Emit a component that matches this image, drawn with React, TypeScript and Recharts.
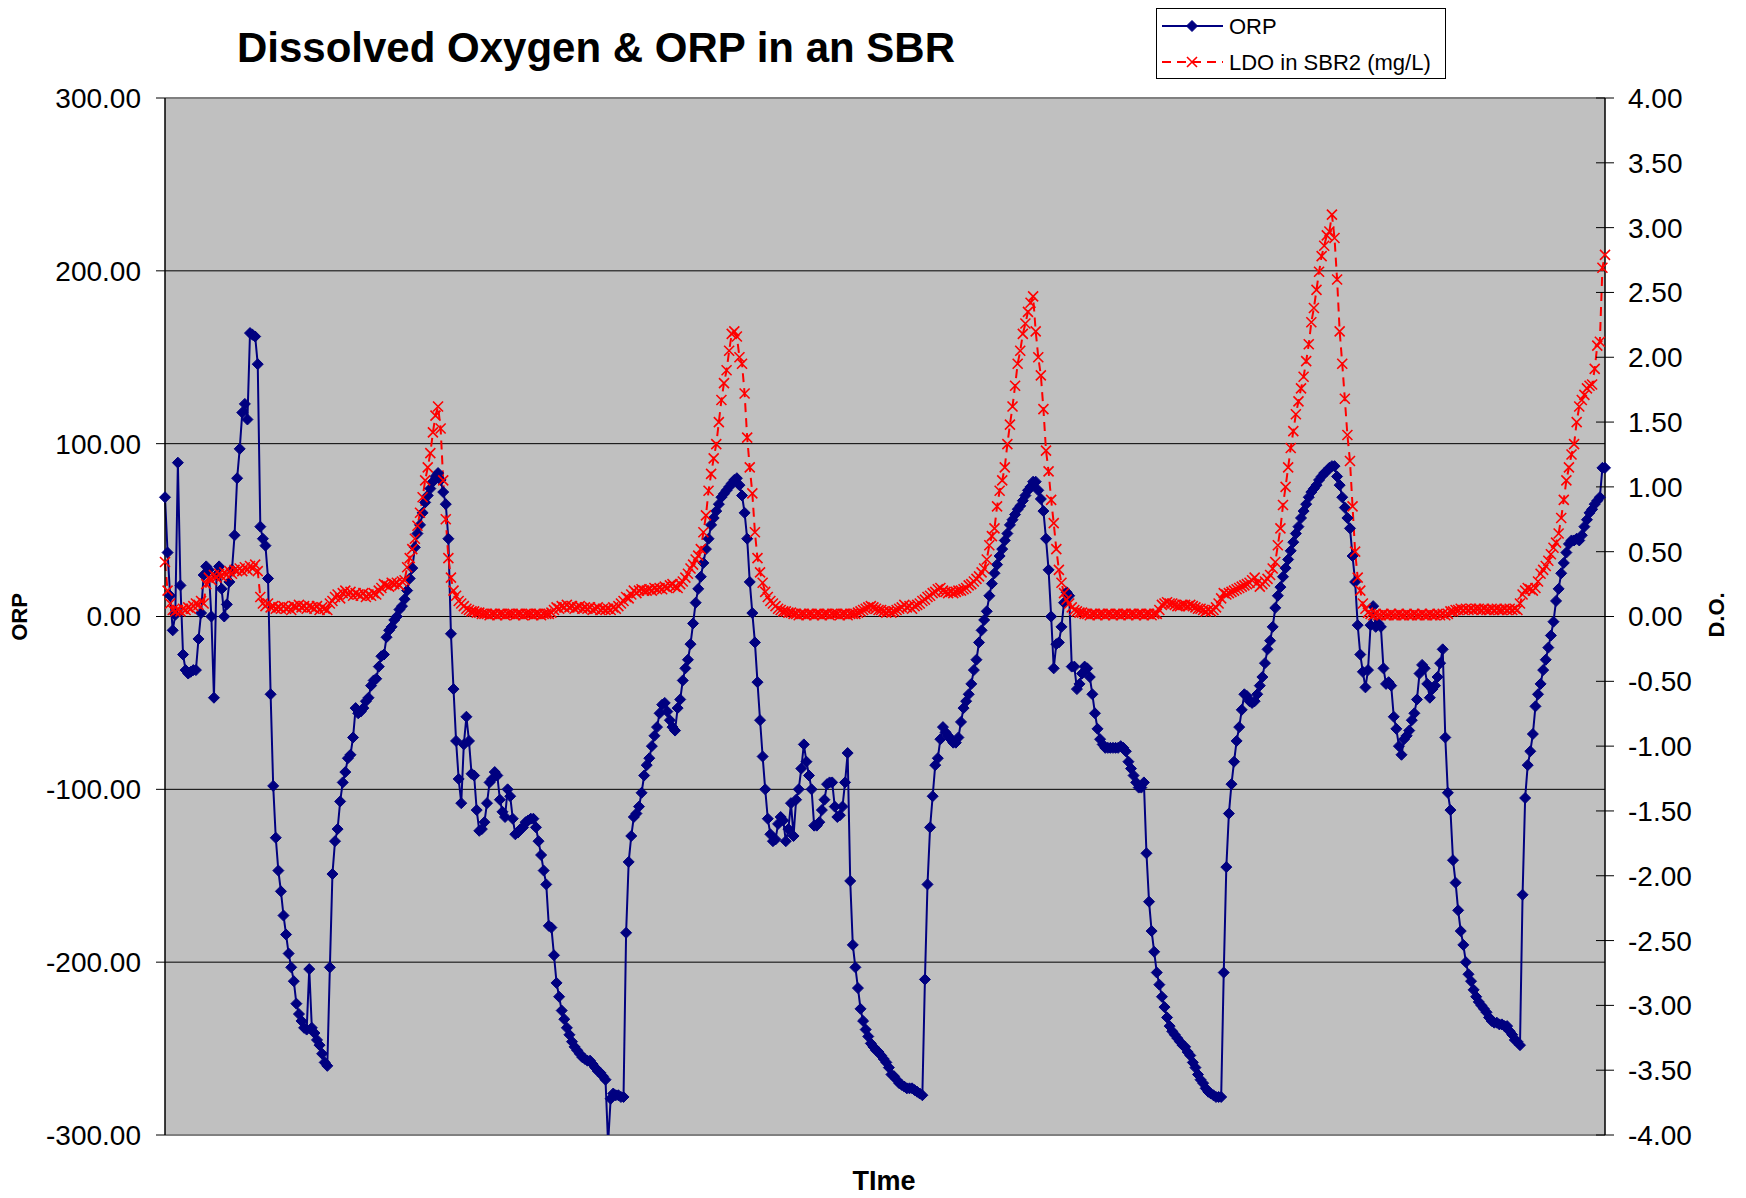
import { CartesianGrid, Line, LineChart, ReferenceLine, XAxis, YAxis } from "recharts";

// ORP (mV), one reading per logging interval
const orp = [
  69, 37, 12, -8, 1, 89, 18, -22, -31, -33,
  -32, -31, -31, -13, 2, 24, 29, 27, 0, -47,
  24, 29, 16, 0, 7, 20, 27, 47, 80, 97,
  118, 123, 114, 164, 163, 162, 146, 52, 45, 41,
  22, -45, -98, -128, -147, -159, -173, -184, -195, -203,
  -211, -224, -230, -234, -238, -239, -204, -238, -241, -245,
  -248, -253, -258, -260, -203, -149, -130, -123, -107, -96,
  -90, -82, -80, -70, -53, -56, -55, -53, -49, -47,
  -40, -37, -36, -29, -23, -22, -12, -8, -6, -2,
  0, 4, 6, 10, 15, 22, 28, 40, 48, 53,
  60, 66, 70, 74, 78, 81, 83, 79, 72, 65,
  45, -10, -42, -72, -94, -108, -74, -58, -72, -91,
  -92, -112, -124, -123, -119, -108, -96, -94, -90, -92,
  -106, -113, -116, -100, -104, -117, -126, -125, -123, -122,
  -119, -118, -117, -117, -122, -130, -138, -147, -155, -179,
  -180, -196, -212, -220, -228, -233, -238, -242, -246, -249,
  -251, -253, -255, -256, -257, -257, -259, -261, -263, -264,
  -266, -268, -305, -279, -276, -277, -277, -278, -278, -183,
  -142, -127, -116, -114, -110, -102, -92, -86, -82, -75,
  -69, -64, -56, -51, -50, -55, -60, -64, -66, -53,
  -48, -37, -30, -25, -16, -4, 8, 16, 23, 31,
  39, 45, 53, 57, 61, 65, 69, 71, 73, 75,
  77, 79, 80, 76, 70, 60, 45, 20, 2, -15,
  -38, -60, -81, -100, -117, -126, -130, -129, -120, -116,
  -118, -130, -123, -108, -127, -106, -100, -88, -74, -84,
  -92, -100, -121, -121, -119, -112, -106, -97, -96, -96,
  -110, -116, -115, -110, -96, -79, -153, -190, -203, -215,
  -227, -234, -239, -243, -247, -249, -251, -252, -254, -256,
  -258, -261, -265, -266, -268, -270, -271, -272, -273, -273,
  -273, -274, -275, -276, -277, -210, -155, -122, -104, -86,
  -82, -71, -64, -67, -69, -71, -73, -73, -70, -61,
  -53, -49, -45, -39, -31, -25, -15, -8, -2, 3,
  12, 19, 25, 30, 35, 39, 44, 48, 53, 56,
  59, 62, 64, 67, 70, 73, 75, 78, 78, 73,
  68, 61, 45, 27, 0, -30, -16, -15, -6, 8,
  14, 12, -29, -29, -42, -39, -33, -29, -30, -35,
  -45, -56, -65, -71, -74, -76, -76, -76, -76, -76,
  -76, -75, -76, -78, -84, -88, -92, -96, -99, -99,
  -96, -137, -165, -182, -194, -206, -213, -220, -226, -232,
  -237, -240, -242, -244, -246, -248, -249, -252, -254, -258,
  -261, -265, -268, -270, -273, -275, -276, -277, -278, -278,
  -278, -206, -145, -114, -97, -84, -72, -64, -54, -45,
  -46, -49, -50, -49, -45, -40, -35, -27, -19, -14,
  -6, 5, 12, 17, 23, 28, 33, 38, 43, 48,
  52, 57, 61, 65, 69, 72, 74, 76, 79, 81,
  83, 84, 86, 87, 87, 81, 76, 69, 63, 57,
  51, 35, 20, -5, -22, -32, -41, -31, -5, 6,
  -6, -4, -6, -30, -39, -38, -40, -58, -65, -75,
  -80, -71, -69, -66, -60, -56, -48, -33, -28, -30,
  -39, -47, -42, -40, -35, -27, -19, -70, -102, -112,
  -141, -154, -170, -182, -190, -200, -207, -211, -216, -220,
  -223, -225, -227, -229, -232, -234, -235, -235, -236, -236,
  -237, -237, -240, -242, -245, -246, -248, -161, -105, -86,
  -78, -68, -52, -45, -39, -31, -25, -18, -11, -3,
  9, 16, 25, 31, 37, 42, 44, 44, 45, 44,
  47, 52, 56, 60, 62, 65, 67, 69, 86, 86,
];

// LDO in SBR2 (mg/L)
const ldo = [
  0.42, 0.2, 0.1, 0.05, 0.04, 0.05, 0.04, 0.06, 0.05, 0.07,
  0.06, 0.08, 0.1, 0.09, 0.12, 0.1, 0.25, 0.3, 0.28, 0.32,
  0.3, 0.33, 0.31, 0.34, 0.32, 0.35, 0.33, 0.36, 0.35, 0.37,
  0.35, 0.38, 0.36, 0.39, 0.37, 0.4, 0.35, 0.15, 0.1, 0.08,
  0.1, 0.07, 0.08, 0.06, 0.07, 0.06, 0.08, 0.06, 0.07, 0.05,
  0.08, 0.07, 0.09, 0.07, 0.08, 0.06, 0.08, 0.07, 0.06, 0.08,
  0.05, 0.07, 0.06, 0.05, 0.1, 0.12, 0.15, 0.17, 0.14, 0.18,
  0.2, 0.17, 0.19, 0.16, 0.18, 0.17, 0.16, 0.18, 0.15, 0.17,
  0.16, 0.18, 0.17, 0.2, 0.22, 0.25, 0.24, 0.23, 0.26, 0.25,
  0.26, 0.24, 0.27, 0.28, 0.38, 0.45, 0.52, 0.6, 0.7, 0.8,
  0.92, 1.05, 1.15, 1.26, 1.42, 1.55, 1.62, 1.45, 1.05, 0.75,
  0.45, 0.3, 0.2, 0.16, 0.12, 0.1, 0.08, 0.06, 0.05, 0.04,
  0.04, 0.03, 0.03, 0.02, 0.02, 0.02, 0.01, 0.02, 0.02, 0.01,
  0.02, 0.02, 0.01, 0.02, 0.02, 0.02, 0.01, 0.02, 0.02, 0.01,
  0.02, 0.02, 0.02, 0.01, 0.02, 0.02, 0.01, 0.02, 0.02, 0.02,
  0.03, 0.05, 0.07, 0.06, 0.08, 0.07, 0.09, 0.07, 0.08, 0.06,
  0.07, 0.08, 0.06, 0.07, 0.06, 0.07, 0.05, 0.06, 0.07, 0.05,
  0.06, 0.05, 0.06, 0.05, 0.07, 0.06, 0.08, 0.1, 0.12, 0.15,
  0.14, 0.17, 0.2, 0.18, 0.2, 0.21, 0.2, 0.2, 0.21, 0.2,
  0.22, 0.21, 0.22, 0.21, 0.23, 0.22, 0.24, 0.25, 0.23, 0.22,
  0.25, 0.27, 0.3, 0.33, 0.37, 0.4, 0.44, 0.47, 0.52, 0.65,
  0.78, 0.97, 1.1, 1.22, 1.33, 1.5, 1.67, 1.8, 1.9, 2.05,
  2.18, 2.2, 2.16, 2.0, 1.95, 1.72, 1.38, 1.15, 0.95, 0.65,
  0.45, 0.34, 0.26, 0.19, 0.15, 0.12, 0.1, 0.08, 0.06, 0.05,
  0.04, 0.04, 0.03, 0.03, 0.02, 0.02, 0.01, 0.02, 0.02, 0.01,
  0.02, 0.02, 0.01, 0.02, 0.02, 0.01, 0.02, 0.02, 0.01, 0.02,
  0.02, 0.02, 0.01, 0.02, 0.02, 0.01, 0.02, 0.02, 0.02, 0.03,
  0.04, 0.05, 0.06, 0.07, 0.08, 0.07, 0.06, 0.05, 0.05, 0.04,
  0.03, 0.04, 0.03, 0.04, 0.05, 0.06, 0.07, 0.09, 0.07, 0.08,
  0.06, 0.08, 0.09, 0.1, 0.12, 0.13, 0.15, 0.16, 0.18, 0.19,
  0.21, 0.22, 0.2, 0.19, 0.18, 0.19, 0.18, 0.19, 0.2, 0.2,
  0.21, 0.22, 0.24, 0.25, 0.27, 0.29, 0.31, 0.34, 0.37, 0.44,
  0.55, 0.62, 0.68, 0.85, 0.97, 1.05, 1.15, 1.33, 1.48, 1.62,
  1.78, 1.95, 2.05, 2.18, 2.26, 2.35, 2.42, 2.47, 2.2, 2.0,
  1.86, 1.6, 1.28, 1.12, 0.9, 0.72, 0.52, 0.36, 0.26, 0.18,
  0.13, 0.1, 0.07, 0.05, 0.04, 0.03, 0.03, 0.02, 0.02, 0.01,
  0.02, 0.02, 0.01, 0.02, 0.02, 0.01, 0.02, 0.02, 0.01, 0.02,
  0.02, 0.01, 0.02, 0.02, 0.01, 0.02, 0.02, 0.01, 0.02, 0.02,
  0.01, 0.02, 0.02, 0.01, 0.02, 0.02, 0.05, 0.09, 0.1, 0.11,
  0.1, 0.1, 0.09, 0.08, 0.08, 0.09, 0.09, 0.08, 0.09, 0.08,
  0.07, 0.06, 0.06, 0.05, 0.04, 0.05, 0.04, 0.05, 0.07, 0.1,
  0.14, 0.18, 0.17, 0.18, 0.19, 0.2, 0.21, 0.22, 0.23, 0.24,
  0.25, 0.26, 0.28, 0.3, 0.26, 0.23, 0.25, 0.27, 0.29, 0.32,
  0.37, 0.42, 0.55, 0.68, 0.86, 1.0, 1.15, 1.3, 1.43, 1.56,
  1.66, 1.76, 1.85, 1.97, 2.1, 2.27, 2.38, 2.52, 2.66, 2.78,
  2.86, 2.94, 2.97, 3.1, 2.92, 2.6, 2.2, 1.95, 1.68, 1.4,
  1.2, 0.85, 0.5, 0.3, 0.2, 0.1, 0.06, 0.03, 0.02, 0.01,
  0.02, 0.01, 0.01, 0.02, 0.01, 0.01, 0.02, 0.01, 0.01, 0.02,
  0.01, 0.01, 0.02, 0.01, 0.01, 0.02, 0.01, 0.01, 0.02, 0.01,
  0.01, 0.02, 0.01, 0.01, 0.02, 0.01, 0.02, 0.01, 0.02, 0.04,
  0.04, 0.05, 0.05, 0.06, 0.05, 0.06, 0.05, 0.06, 0.05, 0.06,
  0.06, 0.05, 0.06, 0.05, 0.05, 0.06, 0.05, 0.06, 0.05, 0.05,
  0.06, 0.05, 0.06, 0.05, 0.06, 0.05, 0.1, 0.17, 0.2, 0.22,
  0.21, 0.2, 0.22, 0.27, 0.33, 0.36, 0.39, 0.43, 0.48, 0.53,
  0.57, 0.64, 0.76, 0.9, 1.05, 1.15, 1.25, 1.33, 1.5, 1.62,
  1.67, 1.71, 1.76, 1.78, 1.79, 1.91, 2.09, 2.12, 2.69, 2.79,
];

const orpTicks = [-300, -200, -100, 0, 100, 200, 300];
const doTicks = [-4, -3.5, -3, -2.5, -2, -1.5, -1, -0.5, 0, 0.5, 1, 1.5, 2, 2.5, 3, 3.5, 4];

const FONT = '"Liberation Sans", Arial, sans-serif';
const NAVY = "#000080";
const RED = "#FF0000";

const chartData = orp.map((v, i) => ({ t: i + 1, orp: v, ldo: ldo[i] }));

const diamondPath = (cx: number, cy: number, r: number) =>
  `M${cx},${cy - r}L${cx + r},${cy}L${cx},${cy + r}L${cx - r},${cy}Z`;

const crossPath = (cx: number, cy: number, r: number) =>
  `M${cx - r},${cy - r}L${cx + r},${cy + r}M${cx - r},${cy + r}L${cx + r},${cy - r}`;

const DiamondDot = (props: any) => {
  const { cx, cy, index } = props;
  if (cx == null || cy == null) return <g key={`d-${index}`} />;
  return (
    <path
      key={`d-${index}`}
      d={diamondPath(cx, cy, 5.5)}
      fill={NAVY}
      stroke={NAVY}
      strokeWidth={1}
    />
  );
};

const CrossDot = (props: any) => {
  const { cx, cy, index } = props;
  if (cx == null || cy == null) return <g key={`x-${index}`} />;
  return (
    <path
      key={`x-${index}`}
      d={crossPath(cx, cy, 5)}
      stroke={RED}
      strokeWidth={1.6}
      fill="none"
    />
  );
};

const RightTick = (props: any) => {
  const { x, y, payload } = props;
  const axisX = x - 23;
  return (
    <g>
      <line x1={axisX - 9} x2={axisX} y1={y} y2={y} stroke="#000" strokeWidth={1} />
      <text x={x} y={y} dy="0.355em" textAnchor="start" fontSize={28} fill="#000" fontFamily={FONT}>
        {Number(payload.value).toFixed(2)}
      </text>
    </g>
  );
};

const App = () => {
  return (
    <div
      style={{
        position: "absolute",
        left: 0,
        top: 0,
        width: 1746,
        height: 1198,
        background: "#fff",
        fontFamily: FONT,
      }}
    >
      <LineChart
        width={1746}
        height={1198}
        data={chartData}
        margin={{ top: 98, right: 21, bottom: 63, left: 45 }}
      >
        <CartesianGrid
          yAxisId="left"
          vertical={false}
          fill="#C0C0C0"
          fillOpacity={1}
          stroke="#000"
          strokeWidth={1}
        />
        <XAxis dataKey="t" hide />
        <YAxis
          yAxisId="left"
          domain={[-300, 300]}
          ticks={orpTicks}
          allowDataOverflow
          interval={0}
          width={120}
          tickSize={9}
          tickMargin={15}
          tickFormatter={(v: number) => v.toFixed(2)}
          axisLine={{ stroke: "#000", strokeWidth: 1.5 }}
          tickLine={{ stroke: "#000" }}
          tick={{ fill: "#000", fontSize: 28, fontFamily: FONT }}
        />
        <YAxis
          yAxisId="right"
          orientation="right"
          domain={[-4, 4]}
          ticks={doTicks}
          interval={0}
          width={120}
          tickSize={9}
          tickMargin={14}
          axisLine={{ stroke: "#000", strokeWidth: 1.5 }}
          tickLine={{ stroke: "#000" }}
          tick={<RightTick />}
        />
        <ReferenceLine yAxisId="left" y={300} stroke="#808080" strokeWidth={2} />
        <ReferenceLine yAxisId="left" y={-300} stroke="#808080" strokeWidth={2} />
        <Line
          yAxisId="left"
          type="linear"
          dataKey="orp"
          stroke={NAVY}
          strokeWidth={2}
          dot={DiamondDot}
          activeDot={false}
          isAnimationActive={false}
        />
        <Line
          yAxisId="right"
          type="linear"
          dataKey="ldo"
          stroke={RED}
          strokeWidth={2}
          strokeDasharray="9 6"
          dot={CrossDot}
          activeDot={false}
          isAnimationActive={false}
        />
      </LineChart>

      <svg
        width={1746}
        height={1198}
        style={{ position: "absolute", left: 0, top: 0, pointerEvents: "none" }}
        fontFamily={FONT}
      >
        <text x={596} y={62} textAnchor="middle" fontSize={42} fontWeight="bold" fill="#000">
          Dissolved Oxygen &amp; ORP in an SBR
        </text>
        <text
          transform="translate(27, 617) rotate(-90)"
          textAnchor="middle"
          fontSize={22}
          fontWeight="bold"
          fill="#000"
        >
          ORP
        </text>
        <text
          transform="translate(1724, 615) rotate(-90)"
          textAnchor="middle"
          fontSize={22}
          fontWeight="bold"
          fill="#000"
        >
          D.O.
        </text>
        <text x={884} y={1190} textAnchor="middle" fontSize={27} fontWeight="bold" fill="#000">
          TIme
        </text>

        {/* legend */}
        <rect x={1156.5} y={8.5} width={289} height={70} fill="#fff" stroke="#000" strokeWidth={1} />
        <line x1={1162} x2={1223} y1={26} y2={26} stroke={NAVY} strokeWidth={2} />
        <path d={diamondPath(1192, 26, 5.5)} fill={NAVY} stroke={NAVY} />
        <text x={1229} y={34} fontSize={22} fill="#000">
          ORP
        </text>
        <line x1={1162} x2={1223} y1={62} y2={62} stroke={RED} strokeWidth={2} strokeDasharray="9 6" />
        <path d={crossPath(1192, 62, 5)} stroke={RED} strokeWidth={1.6} />
        <text x={1229} y={70} fontSize={22} fill="#000">
          LDO in SBR2 (mg/L)
        </text>
      </svg>
    </div>
  );
};

export default App;
